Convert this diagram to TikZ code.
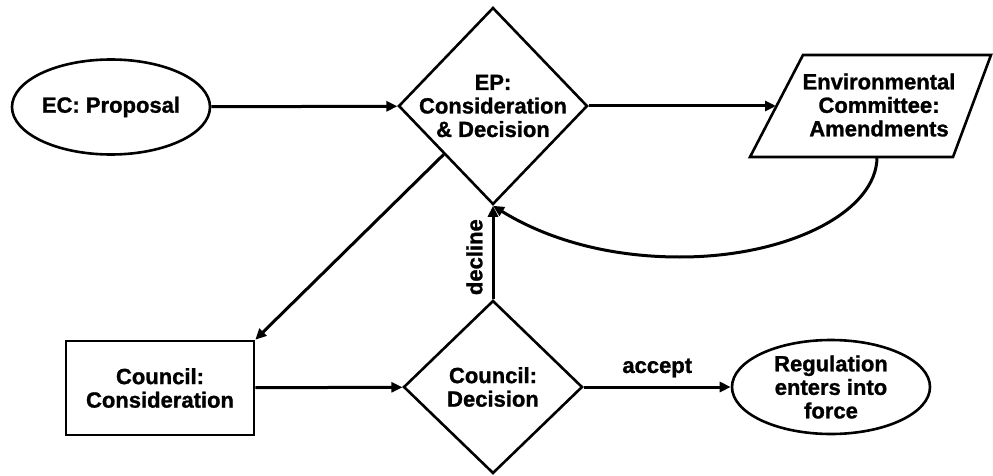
\documentclass[tikz,border=0pt]{standalone}
\usepackage{fontspec}
\setmainfont{Liberation Sans}[BoldFeatures={FakeBold=1.2}]
\usetikzlibrary{shapes.geometric,arrows.meta}
\begin{document}
\begin{tikzpicture}[x=1pt,y=-1pt,
  txt/.style={font=\bfseries\fontsize{22}{23.5}\selectfont, align=center, inner sep=0pt},
  shp/.style={draw, line width=2.6pt, inner sep=0pt},
  ell/.style={shp, ellipse, minimum width=198pt, minimum height=95pt},
  dia/.style={shp, diamond},
  box/.style={shp, rectangle, minimum width=188pt, minimum height=94pt},
  arr/.style={line width=3pt, -{Triangle[length=11pt,width=10pt]}}
]
\useasboundingbox (0,0) rectangle (993,476);

% shapes
\node[ell] (ec) at (111,107) {};
\node[txt] (ect) at (ec) {EC: Proposal};

\node[dia, minimum width=189pt, minimum height=197pt] (ep) at (493,106) {};
\node[txt] (ept) at (ep) {EP:\\Consideration\\\& Decision};

\coordinate (envtl) at (803,55);
\coordinate (envtr) at (991,55);
\coordinate (envbr) at (953,157);
\coordinate (envbl) at (750,157);
\draw[line width=2.6pt] (envtl) -- (envtr) -- (envbr) -- (envbl) -- cycle;
\node[txt] (env) at (879,105) {Environmental\\Committee:\\Amendments};
\coordinate (envin) at (776,106);
\coordinate (envout) at (877,157);

\node[box] (cc) at (160,388) {};
\node[txt] (cct) at (cc) {Council:\\Consideration};

\node[dia, minimum width=179pt, minimum height=173pt] (cd) at (493,387) {};
\node[txt] (cdt) at (cd) {Council:\\Decision};

\node[ell, minimum height=94pt] (reg) at (831,387) {};
\node[txt] (regt) at (reg) {Regulation\\enters into\\force};

% connectors
\draw[arr] (ec) -- (ep);
\draw[arr] (ep) -- (envin);
\draw[arr] (envout) .. controls (877,212) and (788,257) .. (680,257)
  .. controls (600,257) and (540,235) .. (ep.south);
\draw[arr] (ep) -- (cc.north east);
\draw[arr] (cc) -- (cd);
\draw[arr] (cd.north) -- node[txt, rotate=90, anchor=south, inner sep=9pt, pos=0.45] (dec) {decline} (ep.south);
\draw[arr] (cd.east) -- node[txt, above, inner sep=8pt] (acc) {accept} (reg);
\end{tikzpicture}
\end{document}
